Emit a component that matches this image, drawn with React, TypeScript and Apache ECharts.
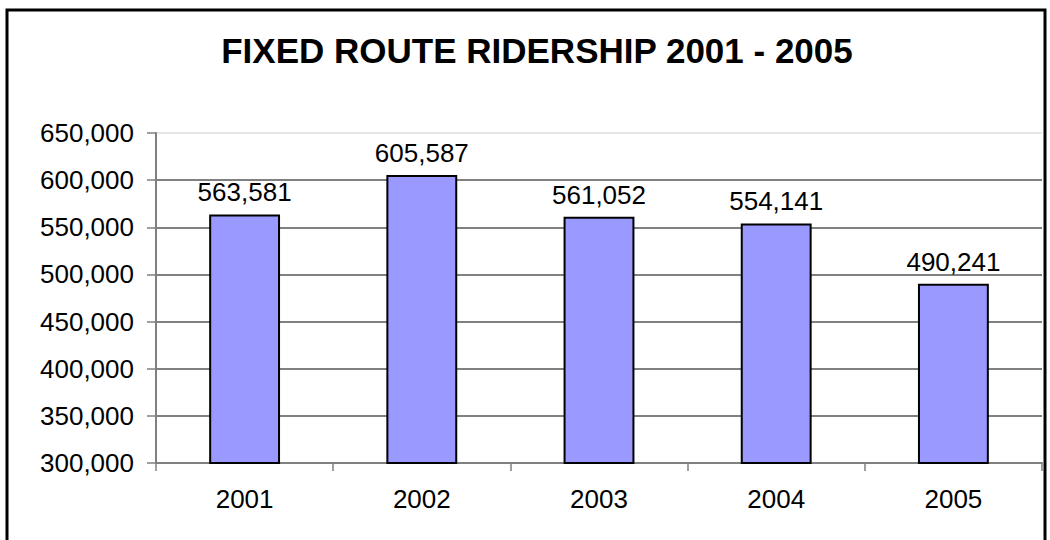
import React, { useEffect, useRef } from "react";
import * as echarts from "echarts";

const categories = ["2001", "2002", "2003", "2004", "2005"];
const ridership = [563581, 605587, 561052, 554141, 490241];
const titleText = "FIXED ROUTE RIDERSHIP 2001 - 2005";

const fmt = (v: number) => v.toLocaleString("en-US");

export default function App() {
  const ref = useRef<HTMLDivElement>(null);
  useEffect(() => {
    document.body.style.margin = "0";
    const chart = echarts.init(ref.current!, null, { renderer: "svg" });
    const font = "'Liberation Sans', Arial, sans-serif";
    chart.setOption({
      animation: false,
      backgroundColor: "#ffffff",
      title: {
        text: titleText,
        left: 532,
        top: 28,
        textAlign: "center",
        textStyle: { fontFamily: font, fontSize: 35, fontWeight: "bold", color: "#000" },
      },
      grid: { left: 156, top: 133, right: 8, bottom: 77, containLabel: false },
      xAxis: {
        type: "category",
        data: categories,
        axisLine: { lineStyle: { color: "#808080", width: 2 } },
        axisTick: { show: true, length: 8, lineStyle: { color: "#808080", width: 1.5 } },
        axisLabel: { fontFamily: font, fontSize: 26, color: "#000", margin: 23 },
      },
      yAxis: {
        type: "value",
        min: 300000,
        max: 650000,
        interval: 50000,
        axisLine: { show: true, lineStyle: { color: "#808080", width: 2 } },
        axisTick: { show: true, length: 9, lineStyle: { color: "#808080", width: 1.5 } },
        axisLabel: {
          fontFamily: font,
          fontSize: 26,
          color: "#000",
          margin: 22,
          formatter: (v: number) => fmt(v),
        },
        splitLine: {
          lineStyle: {
            color: ["#808080", "#808080", "#808080", "#808080", "#808080", "#808080", "#808080", "#e6e6e6"],
            width: 2,
          },
        },
      },
      series: [
        {
          type: "bar",
          data: ridership,
          barWidth: "40%",
          itemStyle: { color: "#9999ff", borderColor: "#000", borderWidth: 2 },
          label: {
            show: true,
            position: "top",
            distance: 9,
            fontFamily: font,
            fontSize: 26,
            color: "#000",
            formatter: (p: any) => fmt(p.value),
          },
        },
      ],
      graphic: [
        {
          type: "rect",
          shape: { x: 7, y: 10, width: 1038, height: 545 },
          style: { fill: "none", stroke: "#000", lineWidth: 3 },
          silent: true,
        },
      ],
    });
    return () => chart.dispose();
  }, []);
  return <div ref={ref} style={{ width: 1050, height: 540 }} />;
}
